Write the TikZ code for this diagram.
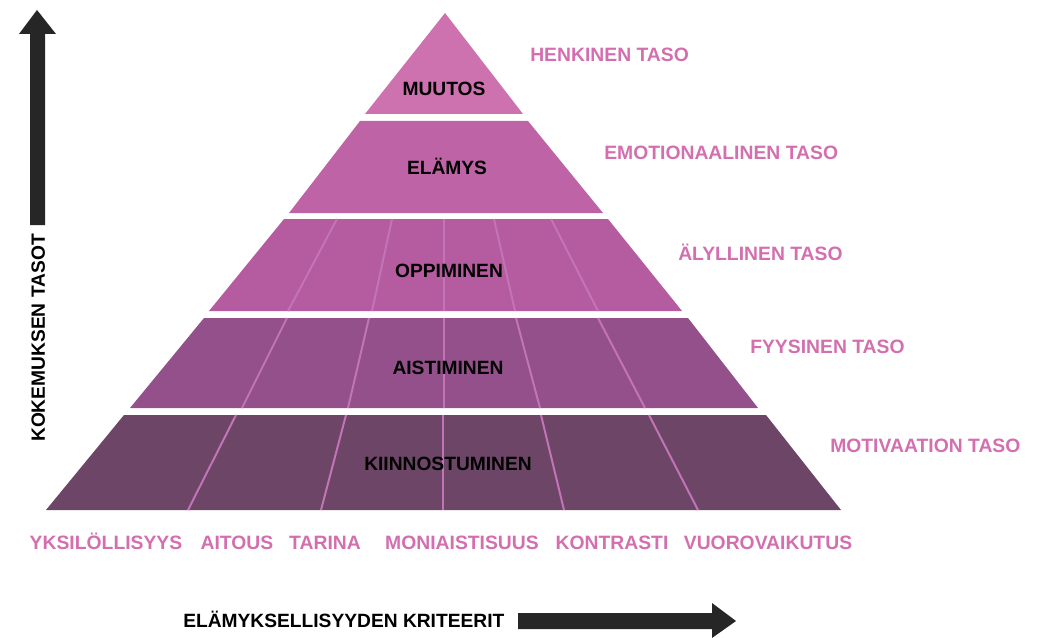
\documentclass[tikz,border=0pt]{standalone}
\usepackage{fontspec}
\setmainfont{Liberation Sans}
\definecolor{cTop}{HTML}{CD72AE}
\definecolor{cL2}{HTML}{BE63A6}
\definecolor{cL3}{HTML}{B55BA0}
\definecolor{cL4}{HTML}{93508A}
\definecolor{cL5}{HTML}{6C4567}
\definecolor{cLine}{HTML}{C274B6}
\definecolor{cPink}{HTML}{D36FAF}
\definecolor{cArrow}{HTML}{262626}
\tikzset{
  layer/.style={draw=none},
  divider/.style={draw=cLine, line width=1.5pt},
  lvl/.style={font=\bfseries\fontsize{14.4pt}{16pt}\selectfont, text=black, inner sep=0pt, text height=0.72em, text depth=0pt},
  plabel/.style={font=\bfseries\fontsize{14.5pt}{16pt}\selectfont, text=cPink, inner sep=0pt, text height=0.72em, text depth=0pt},
  axlabel/.style={font=\bfseries\fontsize{14.4pt}{16pt}\selectfont, text=black, inner sep=0pt, text height=0.72em, text depth=0pt},
  blockarrow/.style={fill=cArrow, draw=none}
}
\begin{document}
\begin{tikzpicture}[x=0.75pt, y=-0.75pt]
\useasboundingbox (0,0) rectangle (1041,638);
% pyramid layers
\fill[cTop, layer] (445,13) -- (523,114) -- (365,114) -- cycle;
\fill[cL2, layer] (360,121) -- (528,121) -- (603,213) -- (289,213) -- cycle;
\fill[cL3, layer] (284,219) -- (608,219) -- (682,311) -- (209,311) -- cycle;
\fill[cL4, layer] (204,318) -- (688,318) -- (758,408) -- (130,408) -- cycle;
\fill[cL5, layer] (124,415) -- (766,415) -- (841,510) -- (46,510) -- cycle;
% dividers layer 3
\foreach \a/\b in {337/288, 392/372, 444/444, 494/515, 551/598}
  \draw[divider] (\a,219) -- (\b,311);
% dividers layer 4
\foreach \a/\b in {287/242, 369/348, 444/444, 516/540, 598/645}
  \draw[divider] (\a,318) -- (\b,408);
% dividers layer 5
\foreach \a/\b in {236/188, 346/321, 443/443, 541/564, 649/698}
  \draw[divider] (\a,415) -- (\b,510);
% level names
\node[lvl] (muutos) at (444,91) {MUUTOS};
\node[lvl] (elamys) at (447,170) {ELÄMYS};
\node[lvl] (oppiminen) at (449,273) {OPPIMINEN};
\node[lvl] (aistiminen) at (448,370) {AISTIMINEN};
\node[lvl] (kiinnostuminen) at (448,466) {KIINNOSTUMINEN};
% right labels
\node[plabel, anchor=west] (henkinen) at (530,57) {HENKINEN TASO};
\node[plabel, anchor=west] (emotio) at (604,155) {EMOTIONAALINEN TASO};
\node[plabel, anchor=west] (alyllinen) at (678,256) {ÄLYLLINEN TASO};
\node[plabel, anchor=west] (fyysinen) at (750,349) {FYYSINEN TASO};
\node[plabel, anchor=west] (motivaatio) at (830,448) {MOTIVAATION TASO};
% bottom labels
\node[plabel] (yksi) at (106,545) {YKSILÖLLISYYS};
\node[plabel] (aitous) at (237,545) {AITOUS};
\node[plabel] (tarina) at (325,545) {TARINA};
\node[plabel] (monia) at (462,545) {MONIAISTISUUS};
\node[plabel] (kontrasti) at (612,545) {KONTRASTI};
\node[plabel] (vuoro) at (768,545) {VUOROVAIKUTUS};
% vertical axis
\node[axlabel, rotate=90] (kokemus) at (40,338) {KOKEMUKSEN TASOT};
\fill[blockarrow] (30,225) -- (30,34) -- (19,34) -- (37,10) -- (56,34) -- (45,34) -- (45,225) -- cycle;
% horizontal axis
\node[axlabel, anchor=west] (kriteerit) at (183,623) {ELÄMYKSELLISYYDEN KRITEERIT};
\fill[blockarrow] (518,613) -- (712,613) -- (712,603) -- (736,621) -- (712,638) -- (712,629) -- (518,629) -- cycle;
\end{tikzpicture}
\end{document}
